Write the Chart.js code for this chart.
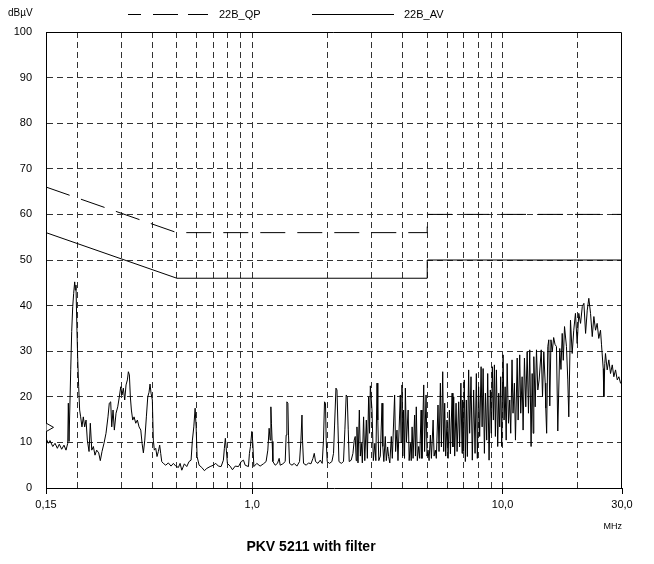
<!DOCTYPE html>
<html><head><meta charset="utf-8">
<script src="https://cdn.jsdelivr.net/npm/chart.js@4.4.1/dist/chart.umd.min.js"></script>
<style>html,body{margin:0;padding:0;background:#fff}canvas{display:block}</style>
</head><body>
<canvas id="c" width="654" height="564"></canvas>
<script>
const unitY = 'dBµV';
const unitX = 'MHz';
const chartTitle = 'PKV 5211 with filter';
const seriesNames = ['22B_QP', '22B_AV'];

const qpFreq = [0.15, 0.5, 5, 5, 30];
const qpLevel = [66, 56, 56, 60, 60];
const avFreq = [0.15, 0.5, 5, 5, 30];
const avLevel = [56, 46, 46, 50, 50];

const markerFreq = [0.1535];
const markerLevel = [13.3];

const traceFreq = [
0.150,0.1532,0.1556,0.1596,0.1630,0.1665,0.1695,0.1733,0.1770,0.1803,
0.1832,0.1842,0.1854,0.1883,0.1900,0.1918,0.1935,0.1953,0.1964,0.1976,
0.1994,0.2007,0.2026,0.2044,0.2063,0.2088,0.2114,0.2141,0.2168,0.2194,
0.2229,0.2255,0.2285,0.2319,0.2354,0.2391,0.2436,0.2472,0.2511,0.2557,
0.2605,0.2653,0.2685,0.2720,0.2746,0.2779,0.2813,0.2857,0.2902,0.2945,
0.2983,0.3019,0.3055,0.3094,0.3132,0.3171,0.3200,0.3230,0.3259,0.3290,
0.3331,0.3372,0.3425,0.3476,0.3531,0.3587,0.3630,0.3674,0.3721,0.3776,
0.3825,0.3870,0.3906,0.3942,0.3989,0.4026,0.4063,0.4116,0.4165,0.4216,
0.4268,0.4308,0.4349,0.4414,0.4512,0.4622,0.4738,0.4841,0.4950,0.5069,
0.5149,0.5231,0.5355,0.5475,0.5592,0.5697,0.5767,0.5842,0.5913,0.5967,
0.6022,0.6134,0.6289,0.6440,0.6585,0.6788,0.6994,0.7150,0.7323,0.7509,
0.7668,0.7738,0.7810,0.7882,0.7956,0.8156,0.8337,0.8547,0.8811,0.9033,
0.9227,0.9370,0.9657,0.9745,0.9834,0.9963,1.0055,1.0148,
1.043,1.075,1.108,1.136,1.154,1.168,1.179,1.187,1.193,1.201,
1.209,1.235,1.261,1.281,1.293,1.325,1.354,1.366,1.375,1.388,
1.396,1.409,1.441,1.471,1.508,1.545,1.565,1.580,1.588,1.603,
1.643,1.678,1.716,1.748,1.769,1.790,1.830,1.869,1.903,1.926,
1.944,1.962,1.974,1.993,2.035,2.081,2.112,2.132,2.160,2.180,
2.200,2.220,2.268,2.315,2.345,2.373,2.396,2.418,2.440,2.485,
2.525,2.555,2.579,
2.602,2.62,2.645,2.678,2.703,2.728,2.753,2.785,2.816,2.856,
2.883,2.917,2.941,2.963,3.009,3.046,3.089,3.117,3.151,3.174,
3.203,3.248,3.300,3.324,3.355,3.400,3.432,3.474,3.506,3.545,
3.594,3.627,3.705,3.739,3.786,3.821,3.904,3.932,3.964,3.993,
4.023,4.059,4.090,4.129,4.196,4.235,4.285,4.317,4.352,4.391,
4.453,4.488,4.522,4.566,4.623,4.667,4.728,4.763,4.842,4.881,
4.947,4.991,5.038,5.087,5.149,5.197,5.279,5.327,5.389,5.437,
5.521,5.574,5.644,5.697,5.766,5.819,5.872,5.926,6.000,6.058,
6.132,6.190,6.287,6.333,6.379,6.437,6.519,6.580,6.679,6.734,
6.815,6.889,6.926,6.969,7.033,7.100,7.167,7.233,7.320,7.387,
7.480,7.571,7.664,7.764,7.857,7.929,8.023,8.100,8.208,8.285,
8.362,8.462,8.540,8.643,8.722,8.833,8.937,9.017,9.103,9.190,
9.276,9.362,9.448,9.563,9.652,9.741,9.830,9.920,
10.05,10.14,10.24,10.34,10.43,10.56,10.68,10.78,10.91,11.01,
11.15,11.26,11.44,11.54,11.71,11.82,11.97,12.08,12.23,12.38,
12.54,12.69,12.84,13.00,13.13,13.25,13.33,13.50,13.66,13.83,
14.00,14.27,14.44,14.61,14.80,14.88,15.00,15.16,15.30,15.44,
15.61,15.79,16.00,16.20,16.42,16.62,16.92,17.11,17.31,17.48,
17.68,18.00,18.22,18.39,18.68,18.97,19.25,19.55,19.86,20.16,
20.49,20.82,21.13,21.46,21.79,22.11,22.46,22.82,23.16,23.52,
23.87,24.23,24.62,24.85,25.24,25.38,25.61,25.77,26.18,26.58,
27.00,27.43,27.83,28.27,28.72,29.15,29.60,30.00
];
const traceLevel = [
10.9,9.8,10.4,9.1,9.8,8.7,9.6,8.5,9.4,8.3,
9.8,18.6,10.2,25.9,34.3,39.8,42.7,45.2,43.4,44.5,
34.6,28.8,22.2,17.1,15.6,13.4,15.6,13.4,14.9,10.5,
8.0,14.2,8.3,9.1,7.2,8.3,7.7,6.0,8.0,9.8,
12.0,15.6,18.6,18.9,13.4,17.1,12.7,16.4,17.8,20.0,
22.2,20.4,21.9,19.3,22.6,23.7,25.5,24.8,20.0,17.1,
14.9,15.6,14.2,14.9,13.4,12.7,9.8,7.7,10.5,15.6,
20.0,21.0,22.8,20.8,19.3,10.5,8.3,8.7,6.9,8.0,
9.4,7.6,5.8,5.4,5.0,5.5,4.8,5.4,4.8,4.5,
5.4,3.9,5.3,4.7,5.8,6.1,10.5,13.4,17.5,13.4,
6.9,5.0,4.5,3.8,4.3,4.7,5.0,5.4,4.8,4.7,
6.1,8.7,10.9,8.3,5.4,4.8,4.0,4.8,4.7,5.8,
6.1,5.0,4.7,7.6,9.1,12.4,9.8,4.7,
5.4,4.8,5.3,5.8,8.3,13.1,10.5,17.8,14.2,10.2,
5.8,5.0,5.4,6.5,5.0,5.3,5.8,11.6,18.9,18.6,
11.6,5.4,5.0,5.4,4.8,5.8,10.5,16.0,10.5,5.4,
5.0,5.5,5.3,6.5,7.6,5.8,5.4,6.1,5.4,10.5,
18.9,18.6,10.5,5.8,5.4,5.8,7.6,13.6,21.9,21.5,
13.6,5.8,5.4,5.8,12.9,20.4,20.0,12.9,5.8,6.1,
7.6,10.5,11.3,
6.0,13.4,5.5,17.1,7.0,9.8,5.5,15.6,6.0,14.9,
6.5,20.0,12.0,22.4,17.1,6.0,9.8,6.0,23.0,14.9,
6.0,7.0,18.6,9.1,5.8,11.3,6.0,9.0,6.9,5.5,
11.3,6.5,20.4,8.0,12.7,6.0,20.4,10.0,22.6,7.0,
17.1,6.5,21.9,10.0,17.1,6.0,9.8,6.0,13.4,6.5,
16.0,7.0,17.8,6.0,9.1,6.5,17.1,6.5,22.6,8.0,
20.4,7.0,8.3,6.0,11.6,6.5,14.9,7.0,8.3,6.5,
18.2,8.0,23.0,9.0,25.5,8.0,18.6,7.0,14.9,6.5,
17.1,7.5,20.8,9.0,20.0,7.0,18.6,8.0,18.9,9.0,
23.0,7.6,19.3,8.0,23.7,5.8,19.3,6.9,25.9,12.0,
24.4,6.1,21.5,7.6,25.1,6.5,22.2,11.3,26.6,13.4,
26.2,7.6,20.8,10.5,25.1,6.1,21.5,12.0,26.6,14.9,
27.0,11.3,25.9,9.1,20.8,13.4,24.4,9.1,
29.2,14.9,22.2,10.5,27.3,14.2,19.3,12.0,28.1,16.4,
23.0,10.5,28.5,14.9,29.2,16.4,24.4,12.7,28.5,17.8,
29.9,16.4,30.3,9.1,25.1,12.0,28.8,17.8,30.3,21.5,
23.7,30.3,20.0,29.9,23.0,17.5,12.0,31.0,32.5,18.0,
32.5,29.9,33.0,31.5,31.0,12.5,30.6,26.0,33.9,28.0,
35.4,31.0,23.7,15.6,36.8,29.5,34.6,38.3,31.7,38.3,
36.1,39.8,40.5,33.9,39.0,41.6,38.3,33.2,37.6,34.6,
36.1,32.8,34.6,31.4,26.2,20.0,27.3,29.5,25.9,28.1,
25.1,27.0,24.4,25.9,23.7,24.4,23.0,23.3
];

const xTickValues = [0.15,0.2,0.3,0.4,0.5,0.6,0.7,0.8,0.9,1,2,3,4,5,6,7,8,9,10,20,30];
const xLabelValues = [0.15, 1, 10, 30];
const xLabelTexts = ['0,15', '1,0', '10,0', '30,0'];
const yMin = 0, yMax = 100, yStep = 10;

const FONT = '"Liberation Sans", Arial, Helvetica, sans-serif';
Chart.defaults.font.family = FONT;
Chart.defaults.color = '#000';

const pts = (xs, ys) => xs.map((x, i) => ({x: x, y: ys[i]}));
const CLEAR = 'rgba(0,0,0,0)';
const GRID = '#333';

const decorPlugin = {
  id: 'decor',
  afterDraw(chart) {
    const {ctx, chartArea: a} = chart;
    ctx.save();
    ctx.strokeStyle = '#000';
    ctx.lineWidth = 1;
    ctx.setLineDash([]);
    const t = Math.round(a.top) + 0.5, r = Math.round(a.right) - 0.5;
    ctx.beginPath();
    ctx.moveTo(a.left, t); ctx.lineTo(r, t); ctx.lineTo(r, a.bottom);
    ctx.stroke();

    ctx.fillStyle = '#000';
    ctx.textBaseline = 'middle';
    ctx.textAlign = 'left';
    ctx.font = '10px ' + FONT;
    ctx.fillText(unitY, 8, 13);

    const ds = chart.data.datasets;
    const ly = 14.5;
    ctx.font = '11px ' + FONT;
    // QP sample
    ctx.beginPath();
    ctx.setLineDash([13, 12, 25, 10, 20, 200]);
    ctx.moveTo(128, ly); ctx.lineTo(208, ly); ctx.stroke();
    ctx.setLineDash([]);
    ctx.fillText(ds[0].label, 219, ly);
    // AV sample
    ctx.beginPath();
    ctx.moveTo(312, ly); ctx.lineTo(394, ly); ctx.stroke();
    ctx.fillText(ds[1].label, 404, ly);
    ctx.restore();
  }
};

new Chart(document.getElementById('c'), {
  type: 'line',
  data: {
    datasets: [
      {label: seriesNames[0], data: pts(qpFreq, qpLevel), borderColor: '#000', borderWidth: 1,
       borderDash: [25, 12], pointRadius: 0, fill: false, tension: 0},
      {label: seriesNames[1], data: pts(avFreq, avLevel), borderColor: '#000', borderWidth: 1,
       pointRadius: 0, fill: false, tension: 0},
      {label: 'trace', data: pts(traceFreq, traceLevel), borderColor: '#000', borderWidth: 1,
       pointRadius: 0, fill: false, tension: 0, borderJoinStyle: 'bevel'},
      {label: 'marker', data: pts(markerFreq, markerLevel), showLine: false, pointStyle: 'triangle',
       rotation: 90, pointRadius: 5, borderColor: '#000', borderWidth: 1, backgroundColor: '#fff'}
    ]
  },
  options: {
    responsive: false,
    animation: false,
    events: [],
    layout: {padding: {left: 0, right: 32, top: 32, bottom: 4}},
    plugins: {
      legend: {display: false},
      tooltip: {enabled: false},
      title: {display: true, text: chartTitle, position: 'bottom', color: '#000',
              font: {size: 14, weight: 'bold'}, padding: {top: 4, bottom: 4}}
    },
    scales: {
      x: {
        type: 'logarithmic', min: xTickValues[0], max: xTickValues[xTickValues.length - 1],
        afterBuildTicks: s => { s.ticks = xTickValues.map(v => ({value: v})); },
        afterFit: s => { s.height = 47.2; },
        ticks: {autoSkip: false, maxRotation: 0, minRotation: 0, padding: 4, font: {size: 11}, color: '#000',
          callback: v => { const i = xLabelValues.indexOf(v); return i >= 0 ? xLabelTexts[i] : ''; }},
        grid: {
          lineWidth: 1, tickLength: 6,
          color: c => (c.tick && (c.tick.value === xTickValues[0] || c.tick.value === xTickValues[xTickValues.length - 1])) ? CLEAR : GRID,
          tickColor: c => (c.tick && xLabelValues.indexOf(c.tick.value) >= 0) ? '#000' : CLEAR
        },
        border: {display: true, color: '#000', width: 1, dash: [6, 4]},
        title: {display: true, text: unitX, align: 'end', color: '#000', font: {size: 9}, padding: {top: 0, bottom: 3}}
      },
      y: {
        min: yMin, max: yMax,
        afterFit: s => { s.width = 46; },
        ticks: {stepSize: yStep, padding: 14, font: {size: 11}, color: '#000'},
        grid: {drawTicks: false, lineWidth: 1,
          color: c => (c.tick && (c.tick.value === yMin || c.tick.value === yMax)) ? CLEAR : GRID},
        border: {display: true, color: '#000', width: 1, dash: [6, 4]}
      }
    }
  },
  plugins: [decorPlugin]
});
</script>
</body></html>
